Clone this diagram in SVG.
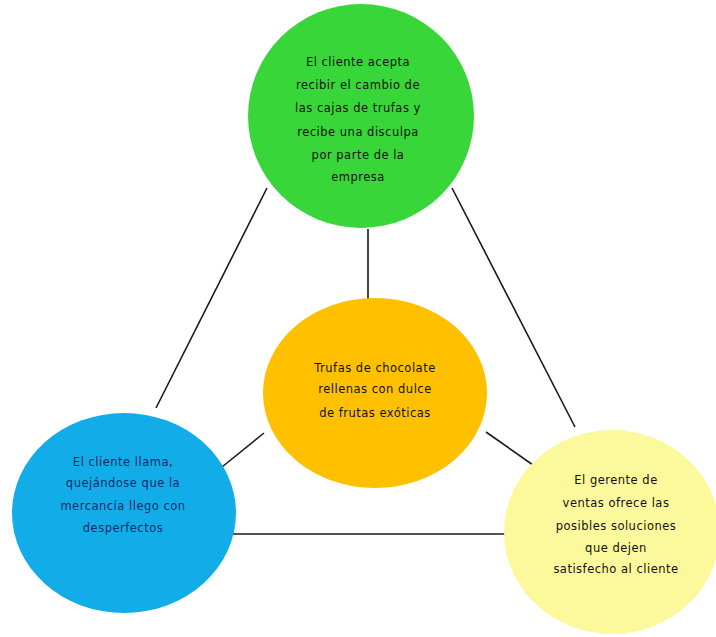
<svg xmlns="http://www.w3.org/2000/svg" width="716" height="637" viewBox="0 0 716 637">
<style>
.c{stroke:none}
.t{font-family:"DejaVu Sans","Verdana",sans-serif;font-size:11.5px;text-anchor:middle;fill:#111;letter-spacing:0.5px}
.tb{fill:#0a2a6a}
.ln{stroke:#1a1a1a;stroke-width:1.6;fill:none}
</style>
<rect width="716" height="637" fill="#ffffff"/>
<g id="connectors">
<line class="ln" x1="267" y1="188" x2="156" y2="408"/>
<line class="ln" x1="452" y1="188" x2="575" y2="427"/>
<line class="ln" x1="368" y1="229" x2="368" y2="300"/>
<line class="ln" x1="264" y1="433" x2="222" y2="467"/>
<line class="ln" x1="486" y1="432" x2="533" y2="465"/>
<line class="ln" x1="233" y1="534" x2="507" y2="534"/>
</g>
<g id="node-green">
<ellipse class="c" cx="361" cy="116" rx="113" ry="112" fill="#39d639"/>
<text class="t" x="358" y="66">El cliente acepta</text>
<text class="t" x="358" y="89">recibir el cambio de</text>
<text class="t" x="358" y="112">las cajas de trufas y</text>
<text class="t" x="358" y="136">recibe una disculpa</text>
<text class="t" x="358" y="159">por parte de  la</text>
<text class="t" x="358" y="181">empresa</text>
</g>
<g id="node-orange">
<ellipse class="c" cx="375" cy="393" rx="112" ry="95" fill="#ffc000"/>
<text class="t" x="375" y="372">Trufas de chocolate</text>
<text class="t" x="375" y="393">rellenas con dulce</text>
<text class="t" x="375" y="417">de frutas exóticas</text>
</g>
<g id="node-blue">
<ellipse class="c" cx="124" cy="513" rx="112" ry="100" fill="#12ade9"/>
<text class="t tb" x="123" y="466">El cliente llama,</text>
<text class="t tb" x="123" y="487">quejándose que la</text>
<text class="t tb" x="123" y="510">mercancía llego con</text>
<text class="t tb" x="123" y="532">desperfectos</text>
</g>
<g id="node-yellow">
<ellipse class="c" cx="612" cy="532" rx="108" ry="102" fill="#fbf99c"/>
<text class="t" x="616" y="484">El gerente de</text>
<text class="t" x="616" y="507">ventas ofrece las</text>
<text class="t" x="616" y="530">posibles soluciones</text>
<text class="t" x="616" y="552">que dejen</text>
<text class="t" x="616" y="573">satisfecho al cliente</text>
</g>
</svg>
